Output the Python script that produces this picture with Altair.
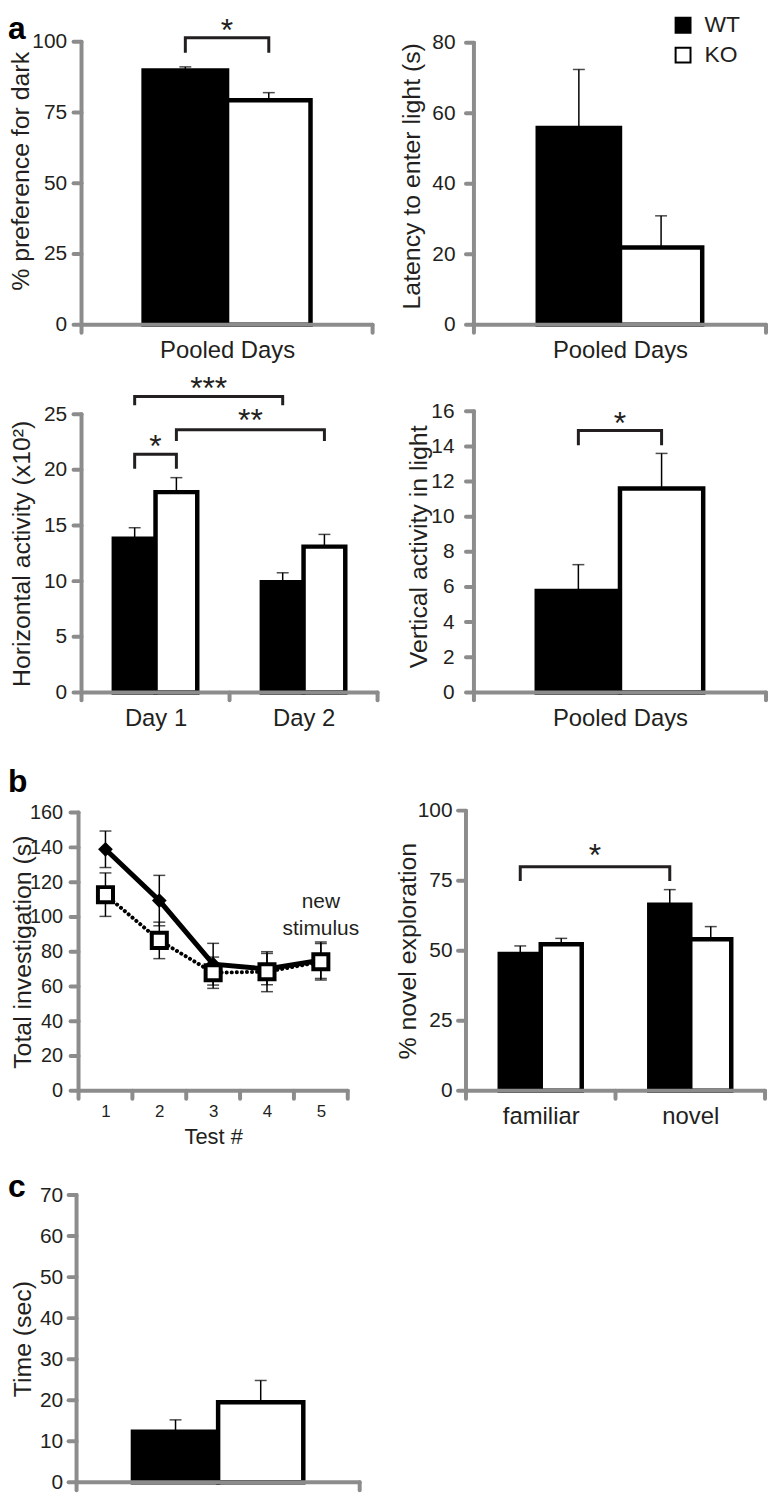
import math
import altair as alt
import pandas as pd

FONT = "Liberation Sans"
TXT = "#231f20"
AXC = "#8c8c8c"
GROUPS = ["WT", "KO"]
FILLS = ["#000000", "#ffffff"]

# ---------------- data ----------------
pref_cats = ["Pooled Days"]
pref_wt = [89.8]
pref_wt_err = [1.3]
pref_ko = [79.3]
pref_ko_err = [2.7]
# (cat1, grp1, cat2, grp2, bracket top, leg bottom, star y, label)
pref_sig = [("Pooled Days", "WT", "Pooled Days", "KO", 101.4, 96.1, 104.6, "*")]

lat_cats = ["Pooled Days"]
lat_wt = [55.8]
lat_wt_err = [16.6]
lat_ko = [21.9]
lat_ko_err = [9.0]

hor_cats = ["Day 1", "Day 2"]
hor_wt = [13.8, 9.9]
hor_wt_err = [1.0, 0.85]
hor_ko = [18.0, 13.1]
hor_ko_err = [1.3, 1.1]
hor_sig = [
    ("Day 1", "WT", "Day 1", "KO", 21.4, 20.1, 22.2, "*"),
    ("Day 1", "WT", "Day 2", "WT", 26.6, 25.8, 27.4, "***"),
    ("Day 1", "KO", "Day 2", "KO", 23.6, 22.6, 24.6, "**"),
]

vert_cats = ["Pooled Days"]
vert_wt = [5.77]
vert_wt_err = [1.5]
vert_ko = [11.6]
vert_ko_err = [2.0]
vert_sig = [("Pooled Days", "WT", "Pooled Days", "KO", 14.9, 14.07, 15.4, "*")]

tests = ["1", "2", "3", "4", "5"]
inv_wt = [138.9, 109.4, 72.8, 70.0, 75.1]
inv_wt_err = [10.5, 14.5, 12.0, 9.0, 10.5]
inv_ko = [112.8, 86.5, 67.9, 68.5, 74.2]
inv_ko_err = [12.5, 10.5, 9.0, 11.5, 10.5]
inv_note = ["new", "stimulus"]
inv_note_y = [108.6, 93.2]

nov_cats = ["familiar", "novel"]
nov_wt = [48.8, 66.4]
nov_wt_err = [2.9, 5.4]
nov_ko = [52.3, 54.1]
nov_ko_err = [2.1, 4.5]
nov_sig = [("familiar", "WT", "novel", "WT", 80.0, 74.9, 84.4, "*")]

time_cats = ["Time"]
time_wt = [12.3]
time_wt_err = [2.9]
time_ko = [19.5]
time_ko_err = [5.3]

AXSTYLE = dict(
    domainColor=AXC, tickColor=AXC, domainWidth=4, tickWidth=4, tickSize=8,
    domainOpacity=0, tickOpacity=0,
    labelFont=FONT, labelColor=TXT,
    titleFont=FONT, titleColor=TXT, titleFontWeight="normal", grid=False,
)
RULE = dict(color=AXC, strokeWidth=4, strokeCap="round")


# ---------------- helpers ----------------
def y_axis(title, values, ext, x0, lpad, title_y=None, label_size=21):
    kw = dict(
        title=title, values=values, minExtent=ext, maxExtent=ext, titlePadding=0,
        titleFontSize=25, labelFontSize=label_size, labelPadding=lpad, offset=-x0,
        **AXSTYLE,
    )
    if title_y is not None:
        kw["titleY"] = title_y
    return alt.Axis(**kw)


def letter_layer(letter, y):
    return alt.Chart(pd.DataFrame({"label": [letter]})).mark_text(
        font=FONT, fontSize=32, fontWeight="bold", align="left",
        baseline="alphabetic", color="black"
    ).encode(x=alt.value(-69), y=alt.value(y), text="label:N")


def axis_layers(xfield, cats, xscale, xaxis, x0, w, yscale, yaxis, ydom, yticks, ch):
    """Thick grey axis lines and ticks (Excel style), drawn as rules."""
    def Yd(v):
        return alt.YDatum(v, type="quantitative", scale=yscale, axis=yaxis)

    one = alt.Chart(pd.DataFrame({"k": [0]}))
    y_line = one.mark_rule(**RULE).encode(
        x=alt.value(x0), y=Yd(ydom[0]), y2=alt.Y2Datum(ydom[1]))
    x_line = one.mark_rule(**RULE).encode(
        x=alt.value(x0), x2=alt.value(x0 + w), y=Yd(ydom[0]))
    y_ticks = alt.Chart(pd.DataFrame({"t": yticks})).mark_rule(**RULE).encode(
        y=alt.Y("t:Q", scale=yscale, axis=yaxis), x=alt.value(x0 - 8), x2=alt.value(x0))
    x_ticks_l = alt.Chart(pd.DataFrame({xfield: cats})).mark_rule(**RULE).encode(
        x=alt.X(f"{xfield}:N", scale=xscale, axis=xaxis, bandPosition=0),
        y=Yd(ydom[0]), y2=alt.value(ch + 8))
    x_ticks_r = alt.Chart(pd.DataFrame({xfield: [cats[-1]]})).mark_rule(**RULE).encode(
        x=alt.X(f"{xfield}:N", scale=xscale, axis=xaxis, bandPosition=1),
        y=Yd(ydom[0]), y2=alt.value(ch + 8))
    return [y_line, y_ticks, x_line, x_ticks_l, x_ticks_r]


def band_units(cats, p, cat, grp):
    return cats.index(cat) + (p + 0.5 + GROUPS.index(grp)) / (2 + 2 * p)


def bar_panel(cats, wt, wt_err, ko, ko_err, ytitle, ydom, yticks, x0, w, cw, ch,
              top, p, ext, lpad, sig=(), show_labels=True, legend=None,
              title_y=None, letter=None, letter_y=None):
    n = len(cats)
    df = pd.DataFrame({
        "cat": list(cats) * 2,
        "group": ["WT"] * n + ["KO"] * n,
        "value": list(wt) + list(ko),
        "err": list(wt_err) + list(ko_err),
    })
    df["top"] = df["value"] + df["err"]

    xscale = alt.Scale(domain=cats, range=[x0, x0 + w], paddingInner=0, paddingOuter=0)
    xaxis = alt.Axis(title=None, labelAngle=0, tickBand="extent", labels=show_labels,
                     labelFontSize=24, labelPadding=6, zindex=1, labelOverlap=False,
                     **AXSTYLE)
    X = alt.X("cat:N", scale=xscale, axis=xaxis)
    XO = alt.XOffset("group:N", scale=alt.Scale(domain=GROUPS, paddingOuter=p, paddingInner=0))
    yscale = alt.Scale(domain=ydom, range=[ch, top], nice=False, zero=True)
    yaxis = y_axis(ytitle, yticks, ext, x0, lpad, title_y)

    def Y(f):
        return alt.Y(f, scale=yscale, axis=yaxis)

    fill = alt.Fill("group:N", scale=alt.Scale(domain=GROUPS, range=FILLS), legend=legend)
    bars = alt.Chart(df).mark_bar(stroke="black", strokeWidth=4.5, strokeJoin="miter").encode(
        x=X, xOffset=XO, y=Y("value:Q"), fill=fill)
    err = alt.Chart(df).mark_rule(color="black", strokeWidth=1.5).encode(
        x=X, xOffset=XO, y=Y("value:Q"), y2="top:Q")
    cap = alt.Chart(df).mark_tick(color="black", thickness=1.5, size=12).encode(
        x=X, xOffset=XO, y=Y("top:Q"))
    layers = [bars, err, cap]

    if sig:
        rows = []
        for k, (c1, g1, c2, g2, yt, yl, sy, lab) in enumerate(sig):
            rows += [
                dict(bid=k, ord=0, cat=c1, group=g1, y=yl),
                dict(bid=k, ord=1, cat=c1, group=g1, y=yt),
                dict(bid=k, ord=2, cat=c2, group=g2, y=yt),
                dict(bid=k, ord=3, cat=c2, group=g2, y=yl),
            ]
        bdf = pd.DataFrame(rows)
        layers.append(alt.Chart(bdf).mark_line(
            color=TXT, strokeWidth=3, strokeJoin="miter", strokeCap="butt").encode(
            x=X, xOffset=XO, y=Y("y:Q"), detail="bid:N", order="ord:Q"))
        for (c1, g1, c2, g2, yt, yl, sy, lab) in sig:
            m = (band_units(cats, p, c1, g1) + band_units(cats, p, c2, g2)) / 2
            i = min(int(math.floor(m)), n - 1)
            bp = m - i
            sdf = pd.DataFrame({"cat": [cats[i]], "sy": [sy], "label": [lab]})
            layers.append(alt.Chart(sdf).mark_text(
                font=FONT, fontSize=32, color=TXT, baseline="alphabetic", dy=12).encode(
                x=alt.X("cat:N", scale=xscale, axis=xaxis, bandPosition=bp),
                y=Y("sy:Q"), text="label:N"))
    layers += axis_layers("cat", cats, xscale, xaxis, x0, w, yscale, yaxis, ydom, yticks, ch)
    if letter:
        layers.append(letter_layer(letter, letter_y))
    return alt.layer(*layers).properties(width=cw, height=ch)


def line_panel(x0, w, cw, ch, top, ext, lpad, letter, letter_y):
    n = len(tests)
    df = pd.DataFrame({
        "test": tests * 2,
        "group": ["WT"] * n + ["KO"] * n,
        "value": inv_wt + inv_ko,
        "err": inv_wt_err + inv_ko_err,
    })
    df["lo"] = df["value"] - df["err"]
    df["hi"] = df["value"] + df["err"]
    xscale = alt.Scale(type="band", domain=tests, range=[x0, x0 + w], paddingInner=0, paddingOuter=0)
    xaxis = alt.Axis(title="Test #", labelAngle=0, tickBand="extent", labelFontSize=17,
                     labelPadding=5, titleFontSize=22, titlePadding=7, zindex=1, **AXSTYLE)
    X = alt.X("test:N", scale=xscale, axis=xaxis)
    ydom = [0, 160]
    yticks = list(range(0, 161, 20))
    yscale = alt.Scale(domain=ydom, range=[ch, top], nice=False, zero=True)
    yaxis = y_axis("Total investigation (s)", yticks, ext, x0, lpad, label_size=20)

    def Y(f):
        return alt.Y(f, scale=yscale, axis=yaxis)

    base = alt.Chart(df)
    err = base.mark_rule(color="black", strokeWidth=1.5).encode(x=X, y=Y("lo:Q"), y2="hi:Q")
    cap_lo = base.mark_tick(color="black", thickness=1.5, size=12).encode(x=X, y=Y("lo:Q"))
    cap_hi = base.mark_tick(color="black", thickness=1.5, size=12).encode(x=X, y=Y("hi:Q"))
    wt = base.transform_filter(alt.datum.group == "WT")
    ko = base.transform_filter(alt.datum.group == "KO")
    wt_line = wt.mark_line(color="black", strokeWidth=5).encode(x=X, y=Y("value:Q"))
    wt_pts = wt.mark_point(shape="diamond", filled=True, size=220, color="black", opacity=1).encode(
        x=X, y=Y("value:Q"))
    ko_line = ko.mark_line(color="black", strokeWidth=4, strokeDash=[0.1, 5], strokeCap="round").encode(
        x=X, y=Y("value:Q"))
    ko_pts = ko.mark_point(shape="square", filled=True, fill="white", stroke="black",
                           strokeWidth=4, size=230, opacity=1).encode(x=X, y=Y("value:Q"))
    ndf = pd.DataFrame({"test": ["5", "5"], "y": inv_note_y, "label": inv_note})
    note = alt.Chart(ndf).mark_text(font=FONT, fontSize=21, color=TXT, baseline="middle").encode(
        x=X, y=Y("y:Q"), text="label:N")
    layers = [err, cap_lo, cap_hi, wt_line, wt_pts, ko_line, ko_pts, note]
    layers += axis_layers("test", tests, xscale, xaxis, x0, w, yscale, yaxis, ydom, yticks, ch)
    layers.append(letter_layer(letter, letter_y))
    return alt.layer(*layers).properties(width=cw, height=ch)


legend = alt.Legend(
    orient="none", legendX=207, legendY=1, title=None, symbolType="square",
    symbolSize=225, symbolStrokeColor="black", symbolStrokeWidth=2, labelFont=FONT,
    labelFontSize=23, labelColor=TXT, labelOffset=10, rowPadding=6, padding=0,
    direction="vertical",
)

a1 = bar_panel(pref_cats, pref_wt, pref_wt_err, pref_ko, pref_ko_err,
               "% preference for dark", [0, 100], [0, 25, 50, 75, 100],
               x0=5, w=293, cw=303, ch=314, top=29, p=0.744, ext=48, lpad=7,
               sig=pref_sig, title_y=159, letter="a", letter_y=26)
a2 = bar_panel(lat_cats, lat_wt, lat_wt_err, lat_ko, lat_ko_err,
               "Latency to enter light (s)", [0, 80], [0, 20, 40, 60, 80],
               x0=8, w=294, cw=302, ch=314, top=30, p=0.776, ext=50, lpad=11,
               legend=legend, title_y=164)
a3 = bar_panel(hor_cats, hor_wt, hor_wt_err, hor_ko, hor_ko_err,
               "Horizontal activity (x10\u00b2)", [0, 25], [0, 5, 10, 15, 20, 25],
               x0=5, w=298, cw=303, ch=350, top=70, p=0.774, ext=47, lpad=7, sig=hor_sig)
a4 = bar_panel(vert_cats, vert_wt, vert_wt_err, vert_ko, vert_ko_err,
               "Vertical activity in light", [0, 16], list(range(0, 17, 2)),
               x0=8, w=294, cw=302, ch=350, top=67, p=0.755, ext=43, lpad=12,
               sig=vert_sig, title_y=203)
b1 = line_panel(x0=2, w=271, cw=303, ch=381, top=101, ext=43, lpad=8, letter="b", letter_y=80)
b2 = bar_panel(nov_cats, nov_wt, nov_wt_err, nov_ko, nov_ko_err,
               "% novel exploration", [0, 100], [0, 25, 50, 75, 100],
               x0=0, w=301, cw=302, ch=381, top=99, p=0.824, ext=46, lpad=6, sig=nov_sig)
c1 = bar_panel(time_cats, time_wt, time_wt_err, time_ko, time_ko_err,
               "Time (sec)", [0, 70], list(range(0, 71, 10)),
               x0=0, w=285, cw=303, ch=374, top=85, p=0.662, ext=41, lpad=6,
               show_labels=False, letter="c", letter_y=87)

chart = alt.concat(
    a1, a2, a3, a4, b1, b2, c1,
    columns=2, spacing={"row": 20, "column": 89}, bounds="flush", align="each",
    padding=0,
).resolve_scale(
    x="independent", y="independent", xOffset="independent", fill="independent"
).resolve_legend(fill="independent").configure_view(stroke=None)

chart.save("out.html", embed_options={"renderer": "svg", "actions": False})
